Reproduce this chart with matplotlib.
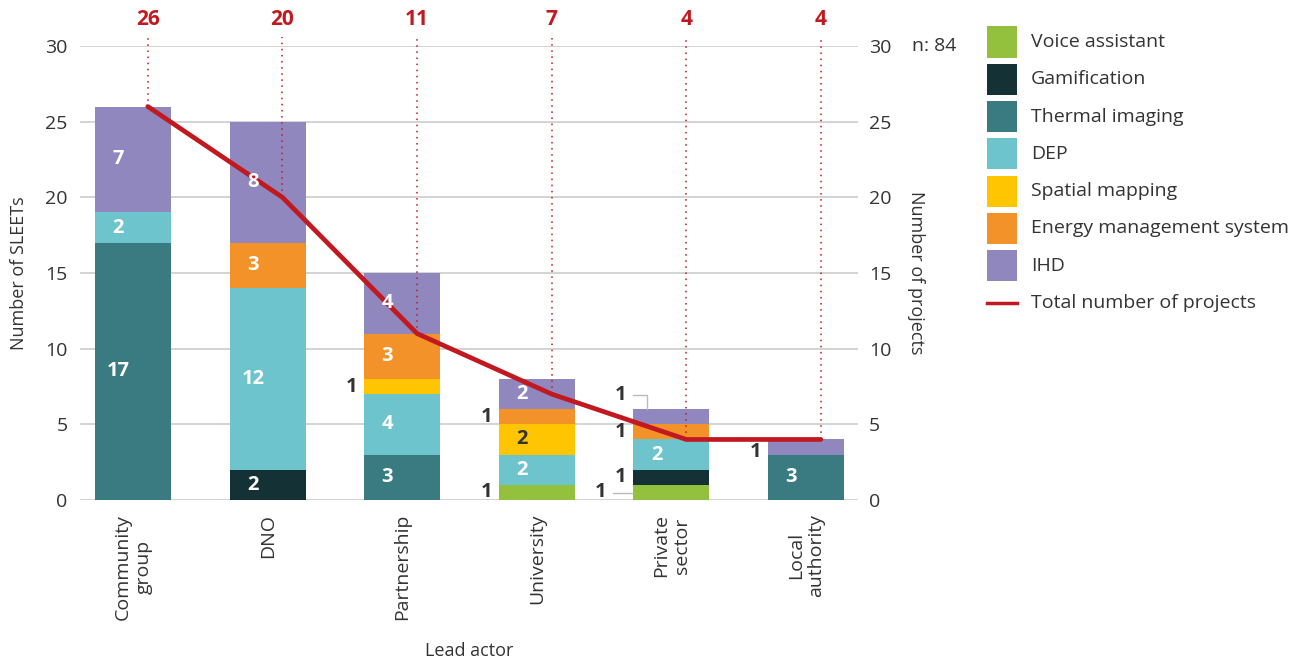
import matplotlib
matplotlib.use("Agg")
import matplotlib.pyplot as plt
from matplotlib.patches import Rectangle
from matplotlib.lines import Line2D
import numpy as np

plt.rcParams['font.family'] = ['Open Sans', 'DejaVu Sans']

categories = ["Community\ngroup", "DNO", "Partnership", "University", "Private\nsector", "Local\nauthority"]
series_names = ["Voice assistant", "Gamification", "Thermal imaging", "DEP",
                "Spatial mapping", "Energy management system", "IHD"]
values = {
    "Voice assistant":          [0, 0, 0, 1, 1, 0],
    "Gamification":             [0, 2, 0, 0, 1, 0],
    "Thermal imaging":          [17, 0, 3, 0, 0, 3],
    "DEP":                      [2, 12, 4, 2, 2, 0],
    "Spatial mapping":          [0, 0, 1, 2, 0, 0],
    "Energy management system": [0, 3, 3, 1, 1, 0],
    "IHD":                      [7, 8, 4, 2, 1, 1],
}
projects = [26, 20, 11, 7, 4, 4]
n_total = 84
line_name = "Total number of projects"

colors = {
    "Voice assistant": "#93C13E",
    "Gamification": "#143236",
    "Thermal imaging": "#3A7A81",
    "DEP": "#6EC4CC",
    "Spatial mapping": "#FFC500",
    "Energy management system": "#F39229",
    "IHD": "#8F87BD",
}
red = "#C1191F"
dark = "#333333"

W, H = 1296, 664
fig = plt.figure(figsize=(W/100, H/100), dpi=100)
ax = fig.add_axes([80/W, 1-500/H, (858-80)/W, (500-46)/H])

x = np.arange(len(categories))
width = 0.565
bottom = np.zeros(len(categories))
for name in series_names:
    v = np.array(values[name], dtype=float)
    ax.bar(x, v, width, bottom=bottom, color=colors[name], label=name, zorder=2)
    bottom += v
totals = bottom.copy()

ax.set_xlim(-0.394, 5.386)
ax.set_ylim(0, 30)
ax.set_yticks(range(0, 31, 5))
ax.grid(axis='y', color='#cccccc', lw=1.2, zorder=0)
ax.set_axisbelow(True)
for s in ax.spines.values():
    s.set_visible(False)
ax.tick_params(axis='both', length=0, labelsize=14, colors=dark)
ax.tick_params(axis='y', pad=9)
ax.set_xticks(x)
ax.set_xticklabels(categories, rotation=90, fontsize=14, color=dark, ha='center', va='top', multialignment='center')
ax.tick_params(axis='x', pad=10)
ax.set_ylabel("Number of SLEETs", fontsize=13, color=dark, labelpad=12)
ax.set_xlabel("Lead actor", fontsize=13, color=dark, labelpad=16)

ax2 = ax.twinx()
ax2.set_ylim(0, 30)
ax2.set_yticks(range(0, 31, 5))
for s in ax2.spines.values():
    s.set_visible(False)
ax2.tick_params(axis='y', length=0, labelsize=14, colors=dark, pad=8)
ax2.set_ylabel("Number of projects", fontsize=13, color=dark, rotation=270, labelpad=24)

# line of projects
lx = x + 0.11
ax.plot(lx, projects, color=red, lw=3.4, zorder=5, solid_capstyle='round', solid_joinstyle='round')
for xi, p in zip(lx, projects):
    ax.plot([xi, xi], [p, 30.6], color=red, lw=1.1, ls=(0, (1, 3)), zorder=4, clip_on=False)
    ax.text(xi, 31.75, str(p), color=red, fontsize=15, fontweight='bold', ha='center', va='center', clip_on=False)

off = -0.11
lab_fs = 14.5
for name in series_names:
    v = np.array(values[name], dtype=float)
    base = np.zeros(len(categories))
    for n2 in series_names:
        if n2 == name:
            break
        base += np.array(values[n2], dtype=float)
    for i in range(len(categories)):
        if v[i] == 0:
            continue
        yc = base[i] + v[i] / 2
        if v[i] >= 2:
            c = dark if name == "Spatial mapping" else "white"
            ax.text(x[i] + off, yc, str(int(v[i])), color=c, fontsize=lab_fs, fontweight='bold',
                    ha='center', va='center', zorder=6)
        else:
            left = x[i] - width / 2
            if i == 4 and name == "Voice assistant":
                ax.plot([left - 0.15, left], [yc - 0.05, yc - 0.05], color='#bbbbbb', lw=1, zorder=3)
                ax.text(left - 0.2, yc, "1", color=dark, fontsize=lab_fs, fontweight='bold', ha='right', va='center', zorder=6)
            elif i == 4 and name == "IHD":
                ty = totals[i] + 0.95
                ax.plot([left, left + 0.1, left + 0.1], [ty, ty, totals[i]], color='#bbbbbb', lw=1, zorder=3)
                ax.text(left - 0.05, ty, "1", color=dark, fontsize=lab_fs, fontweight='bold', ha='right', va='center', zorder=6)
            elif i == 5:
                ax.text(left - 0.05, yc - 0.3, "1", color=dark, fontsize=lab_fs, fontweight='bold', ha='right', va='center', zorder=6)
            else:
                ax.text(left - 0.05, yc, "1", color=dark, fontsize=lab_fs, fontweight='bold', ha='right', va='center', zorder=6)

fig.text(912/W, 1-46/H, f"n: {n_total}", fontsize=14, color=dark, ha='left', va='center')

# legend (manual layout)
leg_x0, leg_y0, pitch, sw, sh = 987, 42, 37.3, 30, 31
for k, name in enumerate(series_names):
    yc = leg_y0 + k * pitch
    fig.patches.append(Rectangle((leg_x0/W, 1-(yc+sh/2)/H), sw/W, sh/H,
                                 transform=fig.transFigure, facecolor=colors[name], edgecolor='none'))
    fig.text(1031/W, 1-yc/H, name, fontsize=14, color=dark, ha='left', va='center')
yc = leg_y0 + len(series_names) * pitch
fig.lines.append(Line2D([leg_x0/W, (leg_x0+sw)/W], [1-yc/H, 1-yc/H], transform=fig.transFigure,
                        color=red, lw=2.5))
fig.text(1031/W, 1-yc/H, line_name, fontsize=14, color=dark, ha='left', va='center')

fig.savefig("out.png", dpi=100)
